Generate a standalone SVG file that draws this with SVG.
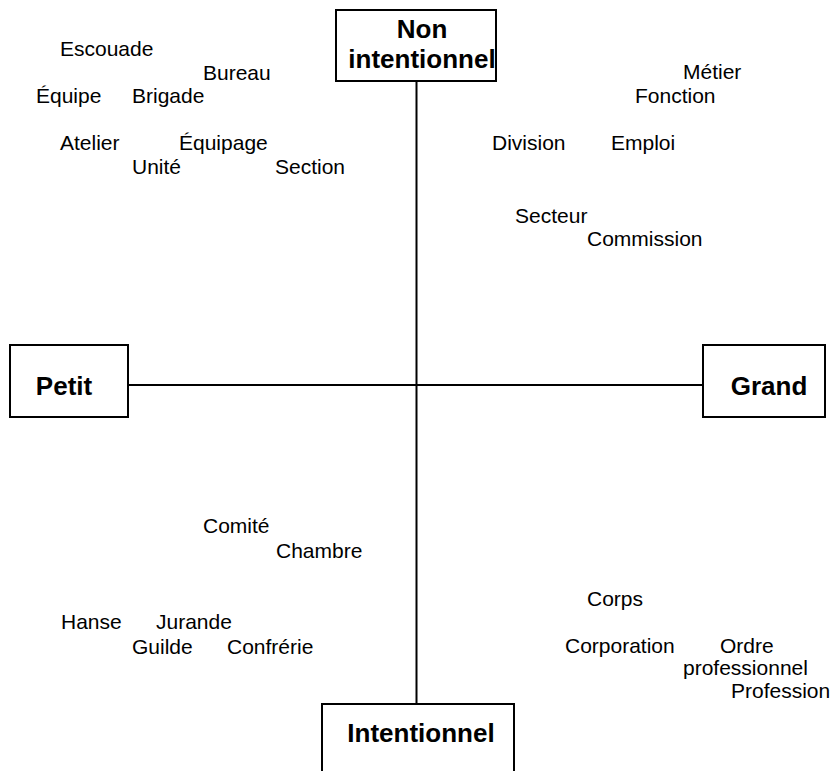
<svg xmlns="http://www.w3.org/2000/svg" width="831" height="771" viewBox="0 0 831 771">
<style>
.box{fill:#fff;stroke:#000;stroke-width:2}
.lbl{font-family:"Liberation Sans",Arial,sans-serif;font-weight:bold;font-size:26px;fill:#000}
.t{font-family:"Liberation Sans",Arial,sans-serif;font-size:21px;fill:#000}
.ax{stroke:#000;stroke-width:2;fill:none}
</style>
<rect width="831" height="771" fill="#fff"/>
<g id="connectors">
<line class="ax" x1="416.5" y1="81" x2="416.5" y2="704"/>
<line class="ax" x1="128" y1="385" x2="703" y2="385"/>
</g>
<g id="node-non-intentionnel">
<rect class="box" x="336" y="10" width="160" height="71"/>
<text class="lbl" x="422" y="38" text-anchor="middle">Non</text>
<text class="lbl" x="422" y="68" text-anchor="middle">intentionnel</text>
</g>
<g id="node-petit">
<rect class="box" x="10" y="345" width="118" height="72"/>
<text class="lbl" x="64" y="395" text-anchor="middle">Petit</text>
</g>
<g id="node-grand">
<rect class="box" x="703" y="345" width="122" height="72"/>
<text class="lbl" x="769" y="395" text-anchor="middle">Grand</text>
</g>
<g id="node-intentionnel">
<rect class="box" x="322" y="704" width="192" height="80"/>
<text class="lbl" x="421" y="742" text-anchor="middle">Intentionnel</text>
</g>
<g id="terms">
<text class="t" x="60" y="56">Escouade</text>
<text class="t" x="203" y="80">Bureau</text>
<text class="t" x="36" y="103">Équipe</text>
<text class="t" x="132" y="103">Brigade</text>
<text class="t" x="60" y="150">Atelier</text>
<text class="t" x="179" y="150">Équipage</text>
<text class="t" x="132" y="174">Unité</text>
<text class="t" x="275" y="174">Section</text>
<text class="t" x="683" y="79">Métier</text>
<text class="t" x="635" y="103">Fonction</text>
<text class="t" x="492" y="150">Division</text>
<text class="t" x="611" y="150">Emploi</text>
<text class="t" x="515" y="223">Secteur</text>
<text class="t" x="587" y="246">Commission</text>
<text class="t" x="203" y="533">Comité</text>
<text class="t" x="276" y="558">Chambre</text>
<text class="t" x="61" y="629">Hanse</text>
<text class="t" x="156" y="629">Jurande</text>
<text class="t" x="132" y="654">Guilde</text>
<text class="t" x="227" y="654">Confrérie</text>
<text class="t" x="587" y="606">Corps</text>
<text class="t" x="565" y="653">Corporation</text>
<text class="t" x="720" y="653">Ordre</text>
<text class="t" x="683" y="675">professionnel</text>
<text class="t" x="731" y="698">Profession</text>
</g>
</svg>
